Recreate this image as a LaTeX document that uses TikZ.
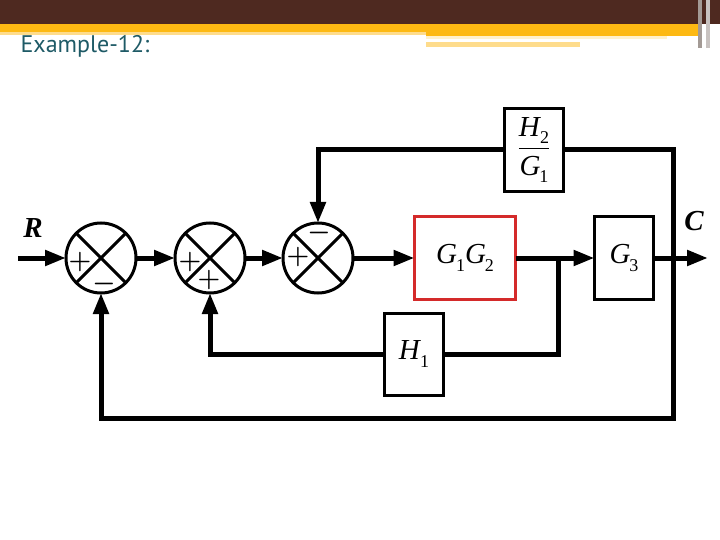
\RequirePackage{fix-cm}
\documentclass[tikz,border=0pt]{standalone}
\usepackage{amsmath,amssymb}
\usepackage{bm}
\usepackage{xcolor}
\usepackage{fontspec}
\newfontfamily\titlefont{PT Sans}
\newfontfamily\timesfont{Liberation Serif}
\usetikzlibrary{arrows.meta,positioning}
\definecolor{barbrown}{HTML}{4E2920}
\definecolor{bargold}{HTML}{FDB913}
\definecolor{barpale}{HTML}{FEDC8C}
\definecolor{barlight}{HTML}{FFF1CC}
\definecolor{bargrey}{HTML}{A39A95}
\definecolor{titleteal}{HTML}{1E5A66}
\definecolor{blockred}{HTML}{D42A2A}
\newcommand{\tsym}[2]{\textit{#1}\kern-1pt\raisebox{-0.25em}{\fontsize{18}{18}\selectfont #2}}
\tikzset{
  sumjn/.style={circle,draw,line width=3pt,minimum size=70pt,inner sep=0pt,outer sep=0pt},
  blk/.style={draw,line width=3pt,minimum width=59pt,minimum height=82pt,inner sep=0pt,outer sep=0pt,font=\fontsize{29}{32}\selectfont\timesfont},
  sgn/.style={font=\fontsize{26}{26}\selectfont\boldmath,inner sep=0pt},
  sig/.style={font=\fontsize{29}{29}\selectfont\timesfont\bfseries\itshape,inner sep=0pt},
  flow/.style={line width=5pt,-{Triangle[length=21pt,width=15pt]}},
  wire/.style={line width=5pt},
}

\begin{document}
\begin{tikzpicture}[x=1pt,y=-1pt]
  \useasboundingbox (0,0) rectangle (720,540);
  % slide header
  \fill[barbrown] (0,0) rectangle (720,24);
  \fill[bargold] (0,24) rectangle (700,32);
  \fill[bargold] (426,32) rectangle (700,36);
  \fill[barpale] (0,32) rectangle (426,35);
  \fill[barlight] (426,36) rectangle (667,39);
  \fill[barpale] (426,42) rectangle (580,47);
  \fill[bargrey] (698,0) rectangle (702,48);
  \fill[bargrey!60] (706,0) rectangle (710,48);
  \node[text=titleteal,font=\fontsize{24}{27}\selectfont\titlefont,anchor=west] (title) at (17,46) {Example-12:};

  % junctions
  \node[sumjn] (s1) at (101,258) {};
  \node[sumjn] (s2) at (210,258) {};
  \node[sumjn] (s3) at (318,258) {};
  \foreach \s in {s1,s2,s3}{
    \draw[line width=3pt] (\s.north west) -- (\s.south east);
    \draw[line width=3pt] (\s.north east) -- (\s.south west);
  }
  \node[sgn] (s1p) at (80,262) {$+$};
  \node[sgn] (s1m) at (104,284) {$-$};
  \node[sgn] (s2p) at (190,262) {$+$};
  \node[sgn] (s2q) at (209,280) {$+$};
  \node[sgn] (s3p) at (298,257) {$+$};
  \node[sgn] (s3m) at (319,233) {$-$};

  % blocks
  \node[blk,draw=blockred,minimum width=101pt] (g12) at (465,258) {\tsym{G}{1}\tsym{G}{2}};
  \node[blk] (g3) at (624,258) {\tsym{G}{3}};
  \node[blk,minimum height=83pt] (h2) at (534,150) {$\dfrac{\text{\tsym{H}{2}}}{\text{\tsym{G}{1}}}$};
  \node[blk] (h1) at (414,354) {\tsym{H}{1}};

  % signals
  \coordinate (rin) at (18,258);
  \coordinate (cout) at (708,258);
  \coordinate (b1) at (558,258);
  \coordinate (b2) at (673,258);
  \coordinate (low) at (673,418);
  \node[sig] (rlab) at (33,228) {R};
  \node[sig] (clab) at (694,221) {C};

  \draw[flow] (rin) -- (s1.west);
  \draw[flow] (s1.east) -- (s2.west);
  \draw[flow] (s2.east) -- (s3.west);
  \draw[flow] (s3.east) -- (g12.west);
  \draw[flow] (g12.east) -- (g3.west);
  \draw[flow] (g3.east) -- (cout);
  % feedback
  \draw[wire] (b2) |- (h2.east);
  \draw[flow] (h2.west) -| (s3.north);
  \draw[wire] (b1) |- (h1.east);
  \draw[flow] (h1.west) -| (s2.south);
  \draw[flow] (b2) -- (low) -| (s1.south);
\end{tikzpicture}
\end{document}
